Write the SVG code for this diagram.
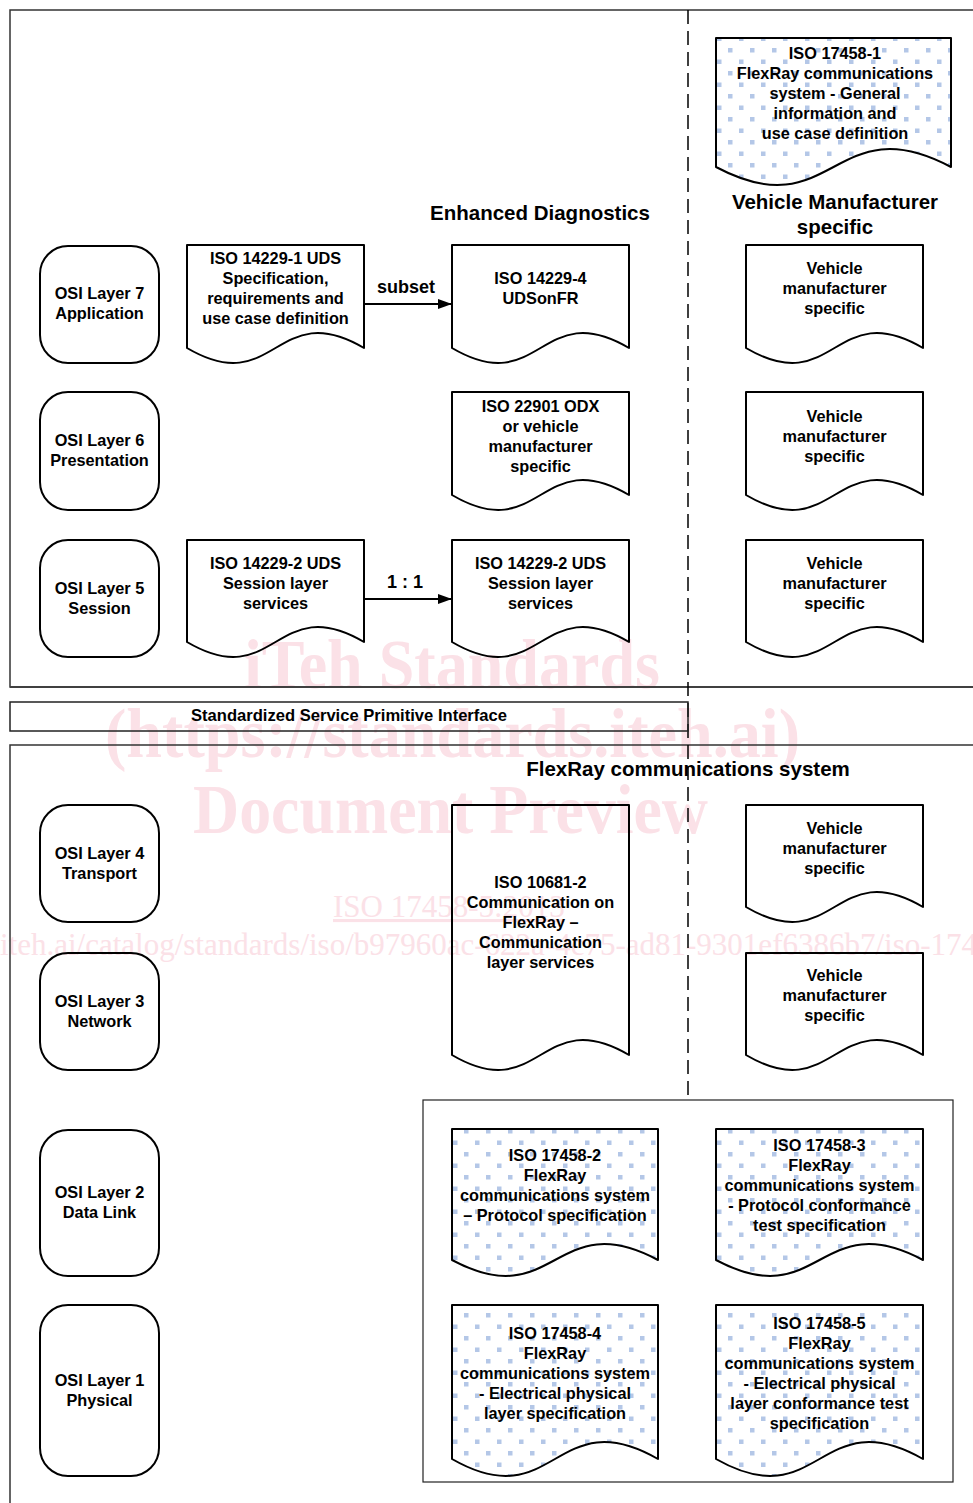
<svg xmlns="http://www.w3.org/2000/svg" width="973" height="1503" viewBox="0 0 973 1503">
<style>
.frame{fill:none;stroke:#333;stroke-width:1.5}
.osi{fill:none;stroke:#000;stroke-width:2}
.doc{fill:none;stroke:#000;stroke-width:2;stroke-linejoin:round}
.ddoc{fill:url(#dots);stroke:#000;stroke-width:2;stroke-linejoin:round}
.t{font-family:"Liberation Sans",Arial,sans-serif;font-weight:bold;font-size:16.3px;fill:#000;text-anchor:middle}
.h{font-family:"Liberation Sans",Arial,sans-serif;font-weight:bold;font-size:20.5px;fill:#000;text-anchor:middle}
.lbl{font-family:"Liberation Sans",Arial,sans-serif;font-weight:bold;font-size:18px;fill:#000;text-anchor:middle}
.wm{font-family:"Liberation Serif","Times New Roman",serif;fill:#fbe1e7}
.wmb{font-weight:bold;font-size:70px}
.wms{font-size:31px}
</style>
<defs>
<pattern id="dots" patternUnits="userSpaceOnUse" x="2" y="2" width="22" height="23">
<rect width="22" height="23" fill="#fff"/>
<rect x="0" y="0" width="4.5" height="4.5" fill="#b4c7e7"/>
<rect x="11" y="11.5" width="4.5" height="4.5" fill="#b4c7e7"/>
</pattern>
<marker id="arr" markerWidth="14" markerHeight="10" refX="14" refY="5" orient="auto" markerUnits="userSpaceOnUse">
<path d="M0,0 L14,5 L0,10 Z" fill="#000"/>
</marker>
</defs>
<rect width="973" height="1503" fill="#fff"/>

<g id="watermark">
<text class="wm wmb" x="244" y="688" textLength="416" lengthAdjust="spacingAndGlyphs">iTeh Standards</text>
<text class="wm wmb" x="105" y="757" textLength="695" lengthAdjust="spacingAndGlyphs">(https://standards.iteh.ai)</text>
<text class="wm wmb" x="193" y="833" textLength="515" lengthAdjust="spacingAndGlyphs">Document Preview</text>
<text class="wm wms" x="333" y="917" text-decoration="underline">ISO 17458-5:2013</text>
<text class="wm wms" x="-211" y="955">https://standards.iteh.ai/catalog/standards/iso/b97960ac-622a-4c75-ad81-9301ef6386b7/iso-17458-5-2013</text>
</g>

<g id="frames">
<rect class="frame" x="10" y="10" width="1000" height="677"/>
<line x1="10" y1="687" x2="973" y2="687" stroke="#404040" stroke-width="2"/>
<rect class="frame" x="10" y="745" width="1000" height="800"/>
<line x1="688" y1="10" x2="688" y2="1100" stroke="#000" stroke-width="1.5" stroke-dasharray="14 7"/>
<rect x="423" y="1100" width="530" height="382" fill="none" stroke="#222" stroke-width="1.2"/>
</g>

<g id="sspi">
<rect x="10" y="702" width="678" height="29" fill="none" stroke="#222" stroke-width="1.5"/>
<text x="349" y="721" font-family="'Liberation Sans',Arial,sans-serif" font-weight="bold" font-size="16.6px" text-anchor="middle" textLength="316" lengthAdjust="spacingAndGlyphs">Standardized Service Primitive Interface</text>
</g>

<g id="headings">
<text class="h" x="540" y="220">Enhanced Diagnostics</text>
<text class="h" x="835" y="209">Vehicle Manufacturer</text>
<text class="h" x="835" y="234">specific</text>
<text class="h" x="688" y="776">FlexRay communications system</text>
</g>

<g id="osi7"><rect class="osi" x="40" y="246" width="119" height="117" rx="28"/>
<text class="t" x="99.5" y="299">OSI Layer 7</text><text class="t" x="99.5" y="319">Application</text></g>
<g id="osi6"><rect class="osi" x="40" y="392" width="119" height="118" rx="28"/>
<text class="t" x="99.5" y="446">OSI Layer 6</text><text class="t" x="99.5" y="466">Presentation</text></g>
<g id="osi5"><rect class="osi" x="40" y="540" width="119" height="117" rx="28"/>
<text class="t" x="99.5" y="594">OSI Layer 5</text><text class="t" x="99.5" y="614">Session</text></g>
<g id="osi4"><rect class="osi" x="40" y="805" width="119" height="117" rx="28"/>
<text class="t" x="99.5" y="859">OSI Layer 4</text><text class="t" x="99.5" y="879">Transport</text></g>
<g id="osi3"><rect class="osi" x="40" y="953" width="119" height="117" rx="28"/>
<text class="t" x="99.5" y="1007">OSI Layer 3</text><text class="t" x="99.5" y="1027">Network</text></g>
<g id="osi2"><rect class="osi" x="40" y="1130" width="119" height="146" rx="28"/>
<text class="t" x="99.5" y="1198">OSI Layer 2</text><text class="t" x="99.5" y="1218">Data Link</text></g>
<g id="osi1"><rect class="osi" x="40" y="1305" width="119" height="171" rx="28"/>
<text class="t" x="99.5" y="1386">OSI Layer 1</text><text class="t" x="99.5" y="1406">Physical</text></g>

<g id="iso17458-1"><path class="ddoc" d="M716,38 H951 V167 C833.5,104.6 833.5,229.4 716,167 Z"/>
<text class="t" x="835" y="59">ISO 17458-1</text><text class="t" x="835" y="79">FlexRay communications</text><text class="t" x="835" y="99">system - General</text><text class="t" x="835" y="119">information and</text><text class="t" x="835" y="139">use case definition</text></g>

<g id="iso14229-1"><path class="doc" d="M187,245 H364 V348 C275.5,296 275.5,400 187,348 Z"/>
<text class="t" x="275.5" y="264">ISO 14229-1 UDS</text><text class="t" x="275.5" y="284">Specification,</text><text class="t" x="275.5" y="304">requirements and</text><text class="t" x="275.5" y="324">use case definition</text></g>

<g id="iso14229-4"><path class="doc" d="M452,245 H629 V348 C540.5,296 540.5,400 452,348 Z"/>
<text class="t" x="540.5" y="284">ISO 14229-4</text><text class="t" x="540.5" y="304">UDSonFR</text></g>

<g id="vm7"><path class="doc" d="M746,245 H923 V348 C834.5,296 834.5,400 746,348 Z"/>
<text class="t" x="834.5" y="274">Vehicle</text><text class="t" x="834.5" y="294">manufacturer</text><text class="t" x="834.5" y="314">specific</text></g>

<g id="iso22901"><path class="doc" d="M452,392 H629 V495 C540.5,443 540.5,547 452,495 Z"/>
<text class="t" x="540.5" y="412">ISO 22901 ODX</text><text class="t" x="540.5" y="432">or vehicle</text><text class="t" x="540.5" y="452">manufacturer</text><text class="t" x="540.5" y="472">specific</text></g>

<g id="vm6"><path class="doc" d="M746,392 H923 V495 C834.5,443 834.5,547 746,495 Z"/>
<text class="t" x="834.5" y="422">Vehicle</text><text class="t" x="834.5" y="442">manufacturer</text><text class="t" x="834.5" y="462">specific</text></g>

<g id="iso14229-2a"><path class="doc" d="M187,540 H364 V642 C275.5,590 275.5,694 187,642 Z"/>
<text class="t" x="275.5" y="569">ISO 14229-2 UDS</text><text class="t" x="275.5" y="589">Session layer</text><text class="t" x="275.5" y="609">services</text></g>

<g id="iso14229-2b"><path class="doc" d="M452,540 H629 V642 C540.5,590 540.5,694 452,642 Z"/>
<text class="t" x="540.5" y="569">ISO 14229-2 UDS</text><text class="t" x="540.5" y="589">Session layer</text><text class="t" x="540.5" y="609">services</text></g>

<g id="vm5"><path class="doc" d="M746,540 H923 V642 C834.5,590 834.5,694 746,642 Z"/>
<text class="t" x="834.5" y="569">Vehicle</text><text class="t" x="834.5" y="589">manufacturer</text><text class="t" x="834.5" y="609">specific</text></g>

<g id="iso10681-2"><path class="doc" d="M452,805 H629 V1055 C540.5,1003 540.5,1107 452,1055 Z"/>
<text class="t" x="540.5" y="888">ISO 10681-2</text><text class="t" x="540.5" y="908">Communication on</text><text class="t" x="540.5" y="928">FlexRay –</text><text class="t" x="540.5" y="948">Communication</text><text class="t" x="540.5" y="968">layer services</text></g>

<g id="vm4"><path class="doc" d="M746,805 H923 V907 C834.5,855 834.5,959 746,907 Z"/>
<text class="t" x="834.5" y="834">Vehicle</text><text class="t" x="834.5" y="854">manufacturer</text><text class="t" x="834.5" y="874">specific</text></g>

<g id="vm3"><path class="doc" d="M746,953 H923 V1055 C834.5,1003 834.5,1107 746,1055 Z"/>
<text class="t" x="834.5" y="981">Vehicle</text><text class="t" x="834.5" y="1001">manufacturer</text><text class="t" x="834.5" y="1021">specific</text></g>

<g id="iso17458-2"><path class="ddoc" d="M452,1129 H658 V1260 C555,1204.6 555,1315.4 452,1260 Z"/>
<text class="t" x="555" y="1161">ISO 17458-2</text><text class="t" x="555" y="1181">FlexRay</text><text class="t" x="555" y="1201">communications system</text><text class="t" x="555" y="1221">– Protocol specification</text></g>

<g id="iso17458-3"><path class="ddoc" d="M716,1129 H923 V1260 C819.5,1204.6 819.5,1315.4 716,1260 Z"/>
<text class="t" x="819.5" y="1151">ISO 17458-3</text><text class="t" x="819.5" y="1171">FlexRay</text><text class="t" x="819.5" y="1191">communications system</text><text class="t" x="819.5" y="1211">- Protocol conformance</text><text class="t" x="819.5" y="1231">test specification</text></g>

<g id="iso17458-4"><path class="ddoc" d="M452,1305 H658 V1459 C555,1400.1 555,1517.9 452,1459 Z"/>
<text class="t" x="555" y="1339">ISO 17458-4</text><text class="t" x="555" y="1359">FlexRay</text><text class="t" x="555" y="1379">communications system</text><text class="t" x="555" y="1399">- Electrical physical</text><text class="t" x="555" y="1419">layer specification</text></g>

<g id="iso17458-5"><path class="ddoc" d="M716,1305 H923 V1459 C819.5,1400.1 819.5,1517.9 716,1459 Z"/>
<text class="t" x="819.5" y="1329">ISO 17458-5</text><text class="t" x="819.5" y="1349">FlexRay</text><text class="t" x="819.5" y="1369">communications system</text><text class="t" x="819.5" y="1389">- Electrical physical</text><text class="t" x="819.5" y="1409">layer conformance test</text><text class="t" x="819.5" y="1429">specification</text></g>

<g id="connectors">
<line x1="364" y1="304" x2="452" y2="304" stroke="#000" stroke-width="2" marker-end="url(#arr)"/>
<text class="lbl" x="406" y="293">subset</text>
<line x1="364" y1="599" x2="452" y2="599" stroke="#000" stroke-width="2" marker-end="url(#arr)"/>
<text class="lbl" x="405" y="588">1 : 1</text>
</g>
</svg>
